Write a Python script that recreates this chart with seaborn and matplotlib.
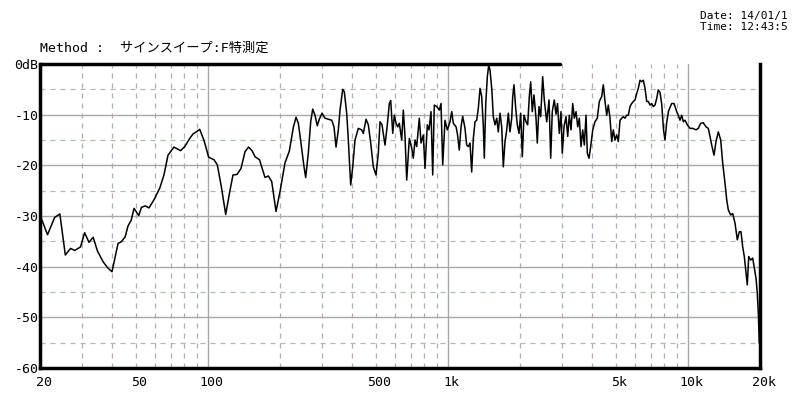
import numpy as np
import pandas as pd
import matplotlib
matplotlib.use("Agg")
import matplotlib.pyplot as plt
import matplotlib.transforms as mtransforms
from matplotlib.ticker import NullLocator, FixedLocator
import seaborn as sns

# ---------------- data ----------------
freq_hz = [
    20.0, 21.5, 23.0, 24.2, 25.5, 26.8, 27.9, 29.5, 30.7, 32.0, 33.3, 34.7, 36.6, 38.4, 39.9,
    42.3, 43.6, 45.3, 46.5, 48.0, 49.3, 51.6, 52.9, 54.9, 56.9, 59.7, 63.1, 65.7, 68.3, 72.3,
    77.1, 80.2, 84.1, 86.8, 89.6, 92.6, 96.5, 100.9, 106.2, 109.6, 113.9, 118.8, 123.5, 127.4,
    132.4, 137.6, 143.0, 147.9, 152.9, 157.4, 164.3, 169.4, 173.2, 178.8, 184.7, 192.5, 200.0,
    209.8, 218.7, 227.3, 233.3, 238.5, 244.6, 251.8, 255.9, 262.4, 268.5, 273.7, 279.8, 286.1,
    291.6, 299.3, 308.0, 317.9, 328.5, 335.8, 342.4, 350.0, 355.7, 365.0, 370.7, 379.3, 385.2,
    394.1, 401.8, 410.7, 424.0, 438.1, 444.9, 456.6, 466.7, 477.5, 489.6, 502.4, 513.6, 522.1,
    532.2, 547.7, 560.0, 570.9, 578.6, 589.8, 598.9, 608.8, 618.8, 628.4, 642.9, 652.9, 663.6,
    674.5, 691.6, 707.6, 718.6, 730.4, 742.4, 761.2, 773.7, 791.0, 803.9, 821.9, 835.4, 851.6,
    865.6, 879.0, 899.5, 922.3, 937.3, 952.7, 974.0, 995.8, 1022, 1039, 1055, 1083, 1098, 1117,
    1136, 1154, 1180, 1199, 1218, 1238, 1258, 1278, 1299, 1320, 1341, 1363, 1385, 1407, 1420,
    1440, 1462, 1482, 1500, 1525, 1548, 1574, 1600, 1624, 1651, 1678, 1704, 1732, 1761, 1788,
    1817, 1847, 1865, 1888, 1919, 1949, 1981, 2013, 2045, 2078, 2119, 2153, 2187, 2216, 2250,
    2287, 2332, 2361, 2400, 2439, 2486, 2525, 2584, 2642, 2685, 2726, 2779, 2825, 2866, 2916,
    2964, 3001, 3051, 3110, 3161, 3210, 3263, 3317, 3368, 3424, 3480, 3534, 3591, 3650, 3707,
    3768, 3815, 3878, 3941, 4018, 4107, 4199, 4281, 4380, 4448, 4521, 4595, 4666, 4743, 4821,
    4896, 4976, 5058, 5136, 5221, 5307, 5389, 5477, 5568, 5654, 5747, 5841, 5932, 6029, 6129,
    6223, 6325, 6429, 6529, 6636, 6745, 6849, 6962, 7076, 7186, 7304, 7424, 7539, 7663, 7789,
    7925, 8039, 8172, 8314, 8573, 8765, 8995, 9134, 9284, 9436, 9583, 9740, 9958, 10219, 10487,
    10825, 11066, 11322, 11609, 11914, 12179, 12380, 12583, 12864, 13114, 13406, 13718, 13984,
    14296, 14532, 14757, 15099, 15392, 15735, 16088, 16400, 16668, 16942, 17204, 17488, 17707,
    17947, 18294, 18648, 18937, 19250, 19491, 19679, 19869,
]
level_db = [
    -29.8, -33.7, -30.3, -29.6, -37.7, -36.4, -36.8, -36.1, -33.3, -35.2, -34.2, -36.9, -39.0, -40.3, -41.0,
    -35.4, -35.1, -34.1, -32.0, -30.8, -28.5, -29.9, -28.3, -28.0, -28.4, -26.8, -24.5, -21.9, -18.0, -16.4,
    -17.1, -16.3, -14.7, -13.8, -13.4, -12.9, -15.1, -18.4, -18.9, -19.9, -24.2, -29.7, -25.2, -21.9,
    -21.8, -20.6, -17.3, -16.4, -17.1, -18.3, -18.9, -20.9, -22.4, -22.1, -23.2, -29.1, -25.2,
    -19.5, -17.2, -12.5, -10.5, -11.7, -15.6, -20.3, -22.4, -17.6, -11.4, -8.9, -10.1, -12.2,
    -10.9, -9.7, -10.7, -10.9, -11.1, -12.4, -16.4, -13.0, -9.1, -5.0, -5.5, -9.7, -15.0,
    -23.9, -20.3, -15.0, -12.7, -13.0, -13.7, -10.9, -12.0, -15.6, -20.3, -21.9, -17.6, -11.4,
    -12.0, -16.0, -12.0, -7.8, -7.2, -13.7, -10.1, -11.7, -12.4, -11.7, -15.0, -9.1, -14.3,
    -22.9, -14.7, -16.6, -18.6, -15.0, -16.3, -10.7, -15.6, -14.0, -20.6, -12.0, -13.0, -9.4,
    -21.9, -8.1, -8.4, -9.1, -7.8, -19.9, -11.1, -13.0, -11.4, -9.4, -11.7, -12.4, -13.9, -17.0,
    -12.4, -10.3, -12.7, -16.0, -16.3, -15.6, -21.3, -14.7, -11.4, -11.1, -8.7, -4.8, -6.4, -12.4, -18.6,
    -7.8, -2.5, -0.2, -1.2, -4.8, -10.4, -12.0, -10.7, -13.4, -9.7, -12.4, -20.3, -15.3, -13.0, -9.7,
    -13.4, -10.7, -6.4, -4.1, -8.7, -12.0, -13.7, -9.7, -18.3, -10.1, -11.4, -12.0, -6.4, -3.5, -9.4,
    -6.1, -10.7, -15.6, -8.4, -10.4, -2.5, -7.1, -11.4, -7.1, -18.6, -9.4, -7.1, -9.9, -7.8, -13.7,
    -9.4, -17.6, -12.4, -10.4, -14.3, -10.1, -13.0, -7.8, -10.7, -9.4, -12.4, -10.7, -16.3, -13.0, -16.0,
    -10.1, -17.6, -18.6, -16.3, -13.0, -11.4, -10.7, -7.4, -6.4, -4.1, -7.4, -10.1, -8.1, -10.7, -15.3,
    -13.0, -15.0, -14.0, -15.3, -11.1, -10.7, -10.4, -10.7, -10.1, -10.1, -8.4, -7.8, -7.4, -7.1, -5.8,
    -4.8, -3.2, -3.5, -3.2, -4.8, -7.4, -7.4, -8.1, -7.8, -8.4, -8.1, -6.8, -5.1, -5.6, -7.9,
    -13.0, -15.0, -11.5, -9.3, -7.8, -7.8, -9.4, -10.1, -11.1, -10.1, -11.4, -11.1, -12.0, -12.7, -12.7,
    -13.0, -12.7, -11.7, -11.6, -12.4, -12.7, -14.3, -16.0, -18.0, -15.3, -13.4, -15.0, -19.6,
    -23.5, -26.8, -28.8, -29.8, -29.5, -31.4, -34.7, -33.1, -33.1, -36.1, -38.0, -41.3, -43.6,
    -38.0, -38.7, -38.3, -40.3, -42.3, -45.3, -49.2, -55.1,
]

x_ticks = [20, 50, 100, 500, 1000, 5000, 10000, 20000]
x_tick_labels = ["20", "50", "100", "500", "1k", "5k", "10k", "20k"]
y_ticks = [0, -10, -20, -30, -40, -50, -60]
y_tick_labels = ["0dB", "-10", "-20", "-30", "-40", "-50", "-60"]

title_text = "Method :  サインスイープ:F特測定"
date_text = "Date: 14/01/1"
time_text = "Time: 12:43:5"

# ---------------- styling ----------------
sns.set_theme(style="white")
plt.rcParams["font.family"] = ["DejaVu Sans Mono", "Noto Sans CJK JP"]

fig = plt.figure(figsize=(8, 4), dpi=100)
fig.patch.set_facecolor("white")
ax = fig.add_axes([0.05, 0.08, 0.90, 0.76])
ax.set_facecolor("white")

ax.set_xscale("log")
ax.set_xlim(20, 20000)
ax.set_ylim(-60, 0)

# grid lines
minor_v = [m * d for d in (10, 100, 1000, 10000) for m in range(2, 10) if 20 < m * d < 20000]
major_v = [100, 1000, 10000]
for v in minor_v:
    ax.axvline(v, color="#b8a8b8", lw=0.9, ls=(0, (4, 4)), zorder=1)
for v in major_v:
    ax.axvline(v, color="#a8a8a8", lw=1.0, zorder=1)
for h in [-5, -15, -25, -35, -45, -55]:
    ax.axhline(h, color="#a8c0a8", lw=0.9, ls=(0, (4, 4)), zorder=1)
for h in [-10, -20, -30, -40, -50]:
    ax.axhline(h, color="#a8a8a8", lw=1.0, zorder=1)

df = pd.DataFrame({"freq": freq_hz, "level": level_db})
sns.lineplot(data=df, x="freq", y="level", ax=ax, color="black", lw=1.1,
             sort=False, estimator=None, zorder=3)

# axes frame
for side in ("left", "bottom", "right"):
    ax.spines[side].set_color("black")
    ax.spines[side].set_linewidth(2.5)
    ax.spines[side].set_visible(True)
ax.spines["top"].set_visible(False)
ax.axhline(0, xmin=0, xmax=0.722, color="black", lw=2.5, clip_on=False, zorder=4)

ax.xaxis.set_major_locator(FixedLocator(x_ticks))
ax.xaxis.set_minor_locator(NullLocator())
ax.set_xticklabels(x_tick_labels)
ax.set_yticks(y_ticks)
ax.set_yticklabels(y_tick_labels)
ax.tick_params(axis="x", which="major", direction="out", length=4, width=1,
               color="black", pad=2, labelsize=9.5, labelcolor="black")
ax.tick_params(axis="y", which="major", length=0, pad=1, labelsize=9.5, labelcolor="black")
shift = mtransforms.ScaledTranslation(4 / 100, 0, fig.dpi_scale_trans)
for lbl in ax.get_xticklabels():
    lbl.set_horizontalalignment("center")
    lbl.set_transform(lbl.get_transform() + shift)
ax.set_xlabel("")
ax.set_ylabel("")
ax.grid(False)

fig.text(40 / 800, 1 - 48 / 400, title_text, fontsize=9.5, va="center", ha="left",
         family=["DejaVu Sans Mono", "Noto Sans CJK JP"], color="black")
fig.text(700 / 800, 1 - 16 / 400, date_text, fontsize=8, va="center", ha="left", color="black")
fig.text(700 / 800, 1 - 27 / 400, time_text, fontsize=8, va="center", ha="left", color="black")

fig.savefig("out.png", dpi=100, facecolor="white")
